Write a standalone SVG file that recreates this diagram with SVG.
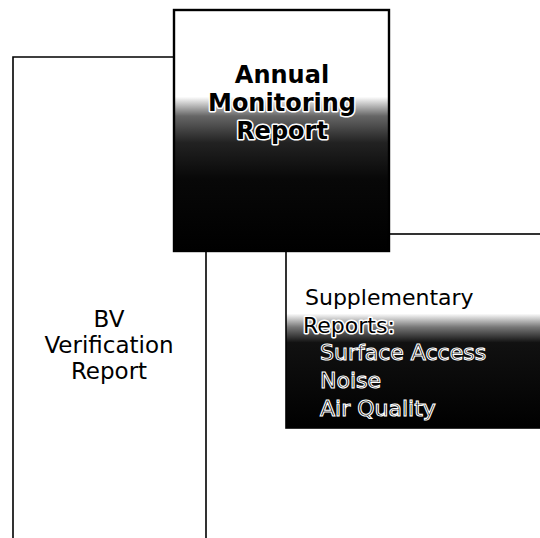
<svg xmlns="http://www.w3.org/2000/svg" width="540" height="538" viewBox="0 0 540 538">
<style>
.box{fill:#fff;stroke:#000;stroke-width:1.6}
.edge{fill:none;stroke:#000;stroke-width:1.6}
.t{font-family:"DejaVu Sans","Verdana",sans-serif;fill:#000}
.bv{font-size:23px;text-anchor:middle}
.amr{font-size:24px;font-weight:bold;text-anchor:middle;stroke:#fff;stroke-width:3;paint-order:stroke;stroke-linejoin:round}
.sup{font-size:22px;stroke:#fff;stroke-width:3;paint-order:stroke;stroke-linejoin:round}
.inv{font-size:22px;fill:#000;stroke:#fff;stroke-width:1.1}
</style>
<defs>
<linearGradient id="gAmr" x1="0" y1="0" x2="0" y2="1">
<stop offset="0" stop-color="#fff"/>
<stop offset="0.36" stop-color="#fff"/>
<stop offset="0.44" stop-color="#666"/>
<stop offset="0.55" stop-color="#222"/>
<stop offset="0.7" stop-color="#080808"/>
<stop offset="1" stop-color="#000"/>
</linearGradient>
<linearGradient id="gSup" x1="0" y1="0" x2="0" y2="1">
<stop offset="0" stop-color="#fff"/>
<stop offset="0.41" stop-color="#fff"/>
<stop offset="0.48" stop-color="#777"/>
<stop offset="0.56" stop-color="#111"/>
<stop offset="1" stop-color="#000"/>
</linearGradient>
</defs>
<rect width="540" height="538" fill="#fff"/>
<g id="bv-verification-report">
<path class="edge" d="M206 560 V57 H13 V560"/>
<text class="t bv" x="109" y="327">BV</text>
<text class="t bv" x="109" y="353">Verification</text>
<text class="t bv" x="109" y="379">Report</text>
</g>
<g id="supplementary-reports">
<rect x="286" y="234" width="270" height="194" fill="url(#gSup)" stroke="#000" stroke-width="1.6"/>
<text class="t sup" x="305" y="305">Supplementary</text>
<text class="t sup" x="303" y="333">Reports:</text>
<text class="t inv" x="320" y="360">Surface Access</text>
<text class="t inv" x="320" y="388">Noise</text>
<text class="t inv" x="320" y="416">Air Quality</text>
</g>
<g id="annual-monitoring-report">
<rect x="174" y="10" width="215" height="241" fill="url(#gAmr)" stroke="#000" stroke-width="2.4"/>
<text class="t amr" x="282" y="83">Annual</text>
<text class="t amr" x="282" y="111">Monitoring</text>
<text class="t amr" x="282" y="139">Report</text>
</g>
<g id="connectors"/>
</svg>
